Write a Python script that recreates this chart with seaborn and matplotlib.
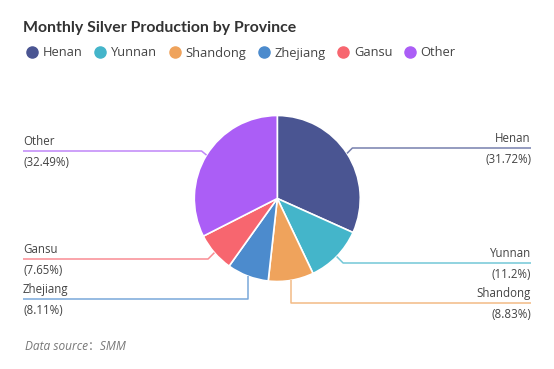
import matplotlib
matplotlib.use("Agg")
import matplotlib.pyplot as plt
import seaborn as sns
import numpy as np
from matplotlib.lines import Line2D

provinces = ["Henan", "Yunnan", "Shandong", "Zhejiang", "Gansu", "Other"]
shares = [31.72, 11.2, 8.83, 8.11, 7.65, 32.49]
share_labels = ["(31.72%)", "(11.2%)", "(8.83%)", "(8.11%)", "(7.65%)", "(32.49%)"]
colors = ["#4a5592", "#44b5ca", "#efa35c", "#4c8bcd", "#f7666f", "#ab5ef6"]

title = "Monthly Silver Production by Province"
source = "Data source：SMM"

sns.set_theme(style="white")
plt.rcParams["font.family"] = ["Open Sans", "Noto Sans CJK SC", "DejaVu Sans"]

W, H = 554, 369
fig = plt.figure(figsize=(W / 100, H / 100), dpi=100)
ax = fig.add_axes([0, 0, 1, 1])

cx, cy, R = 277.3, H - 198.5, 83
wedges, _ = ax.pie(shares, colors=colors, startangle=90, counterclock=False,
                   center=(cx, cy), radius=R, frame=True,
                   wedgeprops=dict(edgecolor="white", linewidth=1.2))
ax.set_xlim(0, W)
ax.set_ylim(0, H)
ax.set_aspect("equal")
ax.axis("off")

# label layout: side, line y (pixels from top), elbow style
layout = {
    "Henan": ("right", 148, "diag"),
    "Yunnan": ("right", 263, "diag"),
    "Shandong": ("right", 303, "vert"),
    "Zhejiang": ("left", 299, "vert"),
    "Gansu": ("left", 259, "diag"),
    "Other": ("left", 151, "diag"),
}
x_left, x_right = 23, 531
for w, name, lab, col in zip(wedges, provinces, share_labels, colors):
    mid = np.deg2rad((w.theta1 + w.theta2) / 2)
    ex, ey = cx + R * np.cos(mid), cy + R * np.sin(mid)
    side, ly, style = layout[name]
    ly = H - ly
    if style == "vert":
        elbow_x = ex
    else:
        dy = abs(ey - ly)
        elbow_x = ex + (max(dy, 5) if side == "right" else -max(dy, 5))
    end_x = x_right if side == "right" else x_left
    ax.plot([ex, elbow_x, end_x], [ey, ly, ly], color=col, lw=1.1,
            alpha=0.75, solid_capstyle="butt")
    ha = "right" if side == "right" else "left"
    ax.text(end_x, ly + 3, name, ha=ha, va="bottom", fontsize=8.3, color="#444444")
    ax.text(end_x, ly - 5, lab, ha=ha, va="top", fontsize=8.3, color="#444444")

fig.text(23 / W, 1 - 28 / H, title, fontsize=11.4, fontweight="bold",
         family=["Lato", "DejaVu Sans"], color="#333333", ha="left", va="center")

handles = [Line2D([0], [0], marker="o", color="none", markerfacecolor=c,
                  markeredgecolor=c, markersize=8) for c in colors]
fig.legend(handles, provinces, loc="center left", bbox_to_anchor=(27 / W, 1 - 53 / H),
           ncol=6, frameon=False, fontsize=9.3, handlelength=0.8, handletextpad=0.4,
           columnspacing=1.0, labelcolor="#444444", borderaxespad=0, borderpad=0)

fig.text(25 / W, 1 - 346 / H, source, fontsize=8.6, fontstyle="italic",
         color="#777777", ha="left", va="center")

fig.savefig("out.png", dpi=100, facecolor="white")
